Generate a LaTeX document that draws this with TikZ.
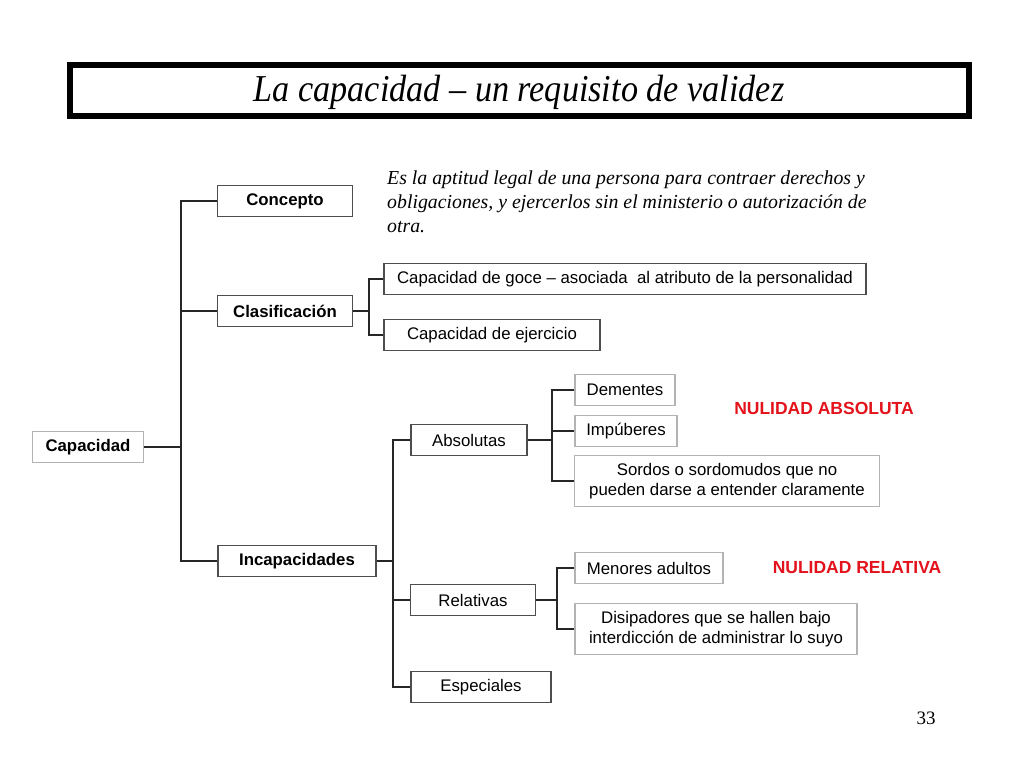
\documentclass[tikz,border=0pt]{standalone}
\usepackage{fontspec}
\setmainfont{Liberation Sans}
\newfontfamily\serifit[Ligatures=TeX]{Liberation Serif}
\usepackage{tikz}
\usetikzlibrary{positioning,calc}
\definecolor{edgedark}{HTML}{4D4D4D}
\definecolor{edgelight}{HTML}{B3B3B3}
\definecolor{nulred}{HTML}{E3121B}
\tikzset{
  boxfont/.style={font=\fontsize{16.8}{20.5}\selectfont},
  lvlbox/.style={draw=edgedark, line width=1.8pt, fill=white, boxfont,
                 font=\fontsize{16.8}{20.5}\selectfont\bfseries,
                 minimum height=31, inner sep=2pt},
  midbox/.style={draw=edgedark, line width=1.4pt, fill=white, boxfont,
                 minimum height=31, inner sep=2pt},
  leafbox/.style={draw=edgelight, line width=1.4pt, fill=white, boxfont,
                  minimum height=31, inner sep=2pt, align=center},
  link/.style={line width=1.5pt, draw=black!85},
  nulidad/.style={text=nulred, font=\fontsize{17.5}{20}\selectfont\bfseries},
}

\begin{document}
\begin{tikzpicture}[x=1pt, y=-1pt]
\useasboundingbox[fill=white] (0,0) rectangle (1024,768);

% ---------------- title -------------------------------------------------
\draw[line width=6pt] (70,65) rectangle (969,116);
\node[font=\fontsize{38}{40}\selectfont\serifit\itshape, xscale=0.9]
  (title) at (519,92) {La capacidad – un requisito de validez};

% ---------------- concepto / clasificacion ------------------------------
\node[leafbox, draw=edgelight, font=\fontsize{16.8}{20.5}\selectfont\bfseries,
      minimum width=111] at (88,447) (cap) {Capacidad};
\node[lvlbox, minimum width=135] at (285,201) (concepto) {Concepto};
\node[lvlbox, minimum width=135] at (285,311) (clasif) {Clasificación};
\node[lvlbox, minimum width=158] at (297,561) (incap) {Incapacidades};

\node[font=\fontsize{19.8}{24}\selectfont\serifit\itshape, align=left,
      anchor=north west, inner sep=0pt] at (387,171) (defin)
  {Es la aptitud legal de una persona para contraer derechos y\\
   obligaciones, y ejercerlos sin el ministerio o autorización de\\
   otra.};

\node[midbox, minimum width=482] at (625,279) (goce)
  {Capacidad de goce – asociada\ \ al atributo de la personalidad};
\node[midbox, minimum width=216] at (492,335) (ejerc)
  {Capacidad de ejercicio};

% ---------------- incapacidades -----------------------------------------
\node[midbox, minimum width=116] at (469,440) (absol) {Absolutas};
\node[midbox, minimum width=125] at (473,600) (relat) {Relativas};
\node[midbox, minimum width=140] at (481,687) (espec) {Especiales};

\node[leafbox, minimum width=100] at (625,390) (dement) {Dementes};
\node[leafbox, minimum width=102] at (626,431) (impub) {Impúberes};
\node[leafbox, minimum width=305, minimum height=51] at (727,481) (sordos)
  {Sordos o sordomudos que no\\pueden darse a entender claramente};
\node[leafbox, minimum width=148] at (649,568) (menores) {Menores adultos};
\node[leafbox, minimum width=282, minimum height=51] at (716,629) (disip)
  {Disipadores que se hallen bajo\\interdicción de administrar lo suyo};

\node[nulidad] at (824,408) (nabs) {NULIDAD ABSOLUTA};
\node[nulidad] at (857,568) (nrel) {NULIDAD RELATIVA};

\node[font=\fontsize{19}{20}\selectfont\serifit] at (926,718) (pag) {33};

% ---------------- connectors --------------------------------------------
\coordinate (j1) at (181,447);
\draw[link] (cap) -- (j1);
\draw[link] (concepto.west) -| (j1) |- (incap.west);
\draw[link] (j1 |- clasif) -- (clasif.west);

\coordinate (j2) at (369,311);
\draw[link] (clasif) -- (j2);
\draw[link] (goce.west) -| (j2) |- (ejerc.west);

\coordinate (j3) at (393,561);
\draw[link] (incap) -- (j3);
\draw[link] (absol.west) -| (j3) |- (espec.west);
\draw[link] (j3 |- relat) -- (relat.west);

\coordinate (j4) at (552,440);
\draw[link] (absol) -- (j4);
\draw[link] (dement.west) -| (j4) |- (sordos.west);
\draw[link] (j4 |- impub) -- (impub.west);

\coordinate (j5) at (557,600);
\draw[link] (relat) -- (j5);
\draw[link] (menores.west) -| (j5) |- (disip.west);
\end{tikzpicture}
\end{document}
